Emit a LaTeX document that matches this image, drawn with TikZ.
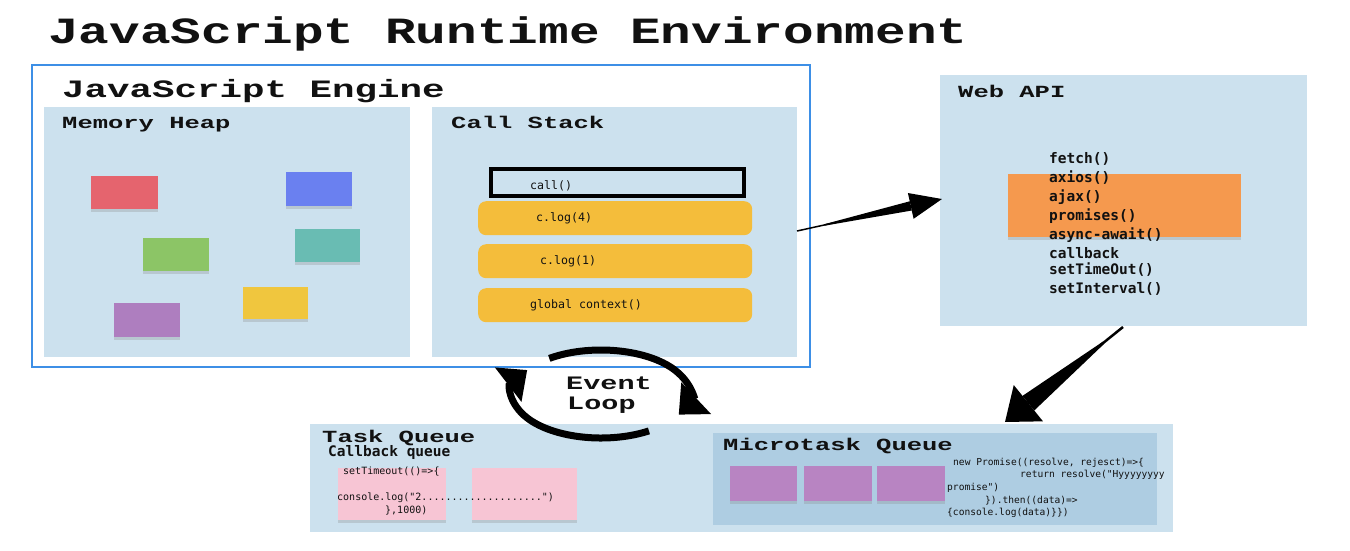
\documentclass[tikz,border=0pt]{standalone}
\usepackage{fontspec}
\setmainfont{Liberation Serif}
\newfontfamily\headfont{Liberation Mono}
\newfontfamily\codefont{DejaVu Sans Mono}
\usetikzlibrary{arrows.meta}
\definecolor{panel}{HTML}{CCE1EE}
\definecolor{panelDark}{HTML}{AECDE2}
\definecolor{engblue}{HTML}{3D8FE6}
\definecolor{stackyellow}{HTML}{F4BD3B}
\definecolor{noteorange}{HTML}{F5994E}
\definecolor{notepink}{HTML}{F7C5D4}
\definecolor{notepurple}{HTML}{B884C2}
\definecolor{nred}{HTML}{E5646E}
\definecolor{nblue}{HTML}{6A80F0}
\definecolor{ngreen}{HTML}{8CC566}
\definecolor{nteal}{HTML}{69BCB3}
\definecolor{npurple}{HTML}{AE7EBF}
\definecolor{nyellow}{HTML}{F0C63E}
\definecolor{ink}{HTML}{111111}
\newcommand{\myhd}[1]{\scalebox{1.5}[1]{#1}}
\tikzset{
  panelbox/.style={fill=panel, draw=none, inner sep=0pt, outer sep=0pt, anchor=north west},
  note/.style={draw=none, inner sep=0pt, outer sep=0pt, anchor=north west,
    preaction={fill=black!45, opacity=0.3, transform canvas={yshift=-2.5pt}}},
  titletext/.style={font=\headfont\bfseries\fontsize{37}{40}\selectfont, text=ink, anchor=base west, inner sep=0pt},
  enghead/.style={font=\headfont\bfseries\fontsize{25}{28}\selectfont, text=ink, anchor=base west, inner sep=0pt},
  heading/.style={font=\headfont\bfseries\fontsize{17}{20}\selectfont, text=ink, anchor=base west, inner sep=0pt},
  stacktext/.style={font=\codefont\fontsize{11.6}{13}\selectfont, text=ink, anchor=base west, inner sep=0pt},
  apitext/.style={font=\codefont\bfseries\fontsize{14.5}{17}\selectfont, text=ink, anchor=base west, inner sep=0pt},
  tasktext/.style={font=\codefont\fontsize{10}{12}\selectfont, text=ink, anchor=base west, inner sep=0pt},
  microtext/.style={font=\codefont\fontsize{9.6}{12}\selectfont, text=ink, anchor=base west, inner sep=0pt},
  stackframe/.style={fill=stackyellow, draw=none, rounded corners=8pt, inner sep=0pt, anchor=north west,
    minimum width=274pt, minimum height=34pt},
  loopline/.style={line width=7pt, draw=black},
  looptip/.style={-{Triangle[width=42pt,length=24pt]}},
}
\begin{document}
\begin{tikzpicture}[x=1pt,y=-1pt]
\fill[white] (0,0) rectangle (1350,550);
\useasboundingbox (0,0) rectangle (1350,550);

% Title
\node[titletext] (title) at (48,43) {\scalebox{1.38}[1]{JavaScript Runtime Environment}};

% Engine
\node[draw=engblue, line width=1.8pt, fill=white, inner sep=0pt, outer sep=0pt, anchor=north west,
      minimum width=778pt, minimum height=302pt] (engine) at (32,65) {};
\node[enghead] (engineT) at (62,97) {\myhd{JavaScript Engine}};

% Memory heap
\node[panelbox, minimum width=366pt, minimum height=250pt] (heap) at (44,107) {};
\node[heading] (heapT) at (62,128) {\myhd{Memory Heap}};
\node[note, fill=nred,    minimum width=67pt, minimum height=33pt] (h1) at (91,176) {};
\node[note, fill=nblue,   minimum width=66pt, minimum height=34pt] (h2) at (286,172) {};
\node[note, fill=ngreen,  minimum width=66pt, minimum height=33pt] (h3) at (143,238) {};
\node[note, fill=nteal,   minimum width=65pt, minimum height=33pt] (h4) at (295,229) {};
\node[note, fill=npurple, minimum width=66pt, minimum height=34pt] (h5) at (114,303) {};
\node[note, fill=nyellow, minimum width=65pt, minimum height=32pt] (h6) at (243,287) {};

% Call stack
\node[panelbox, minimum width=365pt, minimum height=250pt] (stack) at (432,107) {};
\node[heading] (stackT) at (451,128) {\myhd{Call Stack}};
\node[draw=black, line width=4pt, fill=panel, inner sep=0pt, anchor=north west,
      minimum width=253pt, minimum height=27pt] (callbox) at (489,167) {};
\node[stacktext] (callT) at (530,189) {call()};
\node[stackframe] (f1) at (478,201) {};
\node[stacktext] (f1T) at (536,221) {c.log(4)};
\node[stackframe] (f2) at (478,244) {};
\node[stacktext] (f2T) at (540,264) {c.log(1)};
\node[stackframe] (f3) at (478,288) {};
\node[stacktext] (f3T) at (530,308) {global context()};

% Web API
\node[panelbox, minimum width=367pt, minimum height=251pt] (webapi) at (940,75) {};
\node[heading] (webapiT) at (958,97) {\myhd{Web API}};
\node[note, fill=noteorange, minimum width=233pt, minimum height=63pt] (orange) at (1008,174) {};
\node[apitext] (a1) at (1049,163) {fetch()};
\node[apitext] (a2) at (1049,182) {axios()};
\node[apitext] (a3) at (1049,201) {ajax()};
\node[apitext] (a4) at (1049,220) {promises()};
\node[apitext] (a5) at (1049,239) {async-await()};
\node[apitext] (a6) at (1049,258) {callback};
\node[apitext] (a7) at (1049,274) {setTimeOut()};
\node[apitext] (a8) at (1049,293) {setInterval()};

% Bottom queues
\node[panelbox, minimum width=863pt, minimum height=108pt] (queues) at (310,424) {};
\node[heading] (taskT) at (322,442) {\myhd{Task Queue}};
\node[apitext] (cbT) at (328,456) {Callback queue};
\node[note, fill=notepink, minimum width=108pt, minimum height=52pt] (p1) at (338,468) {};
\node[note, fill=notepink, minimum width=105pt, minimum height=52pt] (p2) at (472,468) {};
\node[tasktext] (t1) at (343,474) {setTimeout(()=>\{};
\node[tasktext] (t2) at (337,500) {console.log("2....................")};
\node[tasktext] (t3) at (385,513) {\},1000)};

\node[fill=panelDark, draw=none, inner sep=0pt, anchor=north west,
      minimum width=444pt, minimum height=92pt] (micro) at (713,433) {};
\node[heading] (microT) at (723,450) {\myhd{Microtask Queue}};
\node[note, fill=notepurple, minimum width=67pt, minimum height=35pt] (m1) at (730,466) {};
\node[note, fill=notepurple, minimum width=68pt, minimum height=35pt] (m2) at (804,466) {};
\node[note, fill=notepurple, minimum width=68pt, minimum height=35pt] (m3) at (877,466) {};
\node[microtext] (c1) at (953,465) {new Promise((resolve, rejesct)=>\{};
\node[microtext] (c2) at (1020,477) {return resolve("Hyyyyyyyy};
\node[microtext] (c3) at (947,490) {promise")};
\node[microtext] (c4) at (985,503) {\}).then((data)=>};
\node[microtext] (c5) at (947,515) {\{console.log(data)\}\})};

% Arrows
\coordinate (engOut) at (797,231);
\coordinate (apiIn) at (942,199);
\coordinate (apiOut) at (1123,327);
\coordinate (microIn) at (1005,422);
\draw[line width=1.5pt, -{Triangle[reversed,length=106pt,width=9pt]Triangle[length=32pt,width=26pt]}]
  (engOut) -- (apiIn);
\draw[line width=2.5pt, -{Triangle[reversed,length=112pt,width=18pt]Triangle[length=30pt,width=46pt]}]
  (apiOut) -- (microIn);

% Event loop
\coordinate (elc) at (601,394);
\draw[loopline, looptip]
  (elc) ++(234:88 and 44) arc[start angle=234, end angle=388, x radius=88, y radius=44];
\draw[loopline, looptip]
  (elc) ++(57:88 and 44) arc[start angle=57, end angle=213, x radius=88, y radius=44];
\node[heading, font=\headfont\bfseries\fontsize{19}{22}\selectfont] (evT) at (566,389) {\myhd{Event}};
\node[heading, font=\headfont\bfseries\fontsize{19}{22}\selectfont] (loT) at (567,409) {\myhd{Loop}};
\end{tikzpicture}
\end{document}
